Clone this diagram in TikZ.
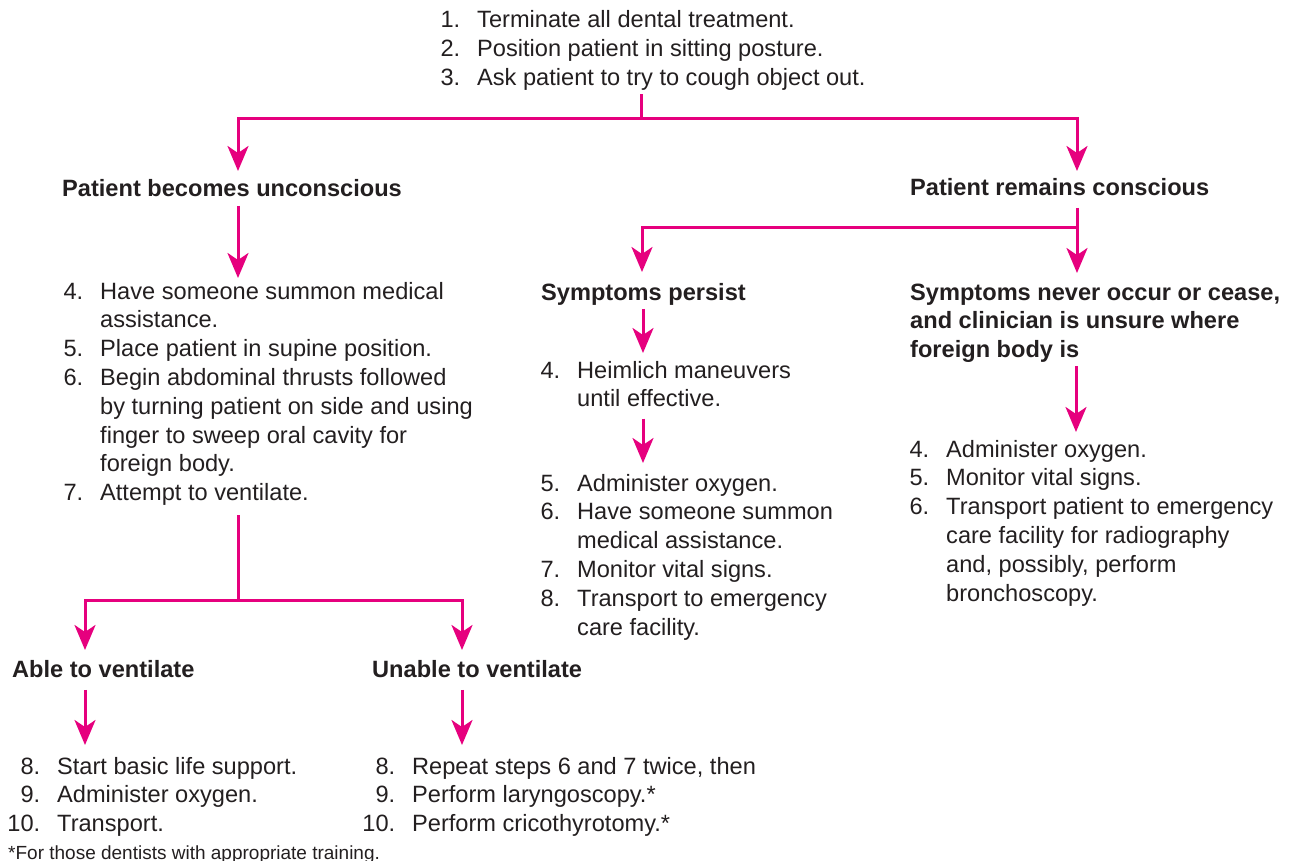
\documentclass[tikz,border=0pt]{standalone}
\usepackage{fontspec}
\setmainfont{Liberation Sans}
\usetikzlibrary{arrows.meta}
\definecolor{flowpink}{RGB}{230,0,126}
\definecolor{ink}{RGB}{35,31,32}
\newcommand\fs{\fontsize{23.6}{28.8}\selectfont}
\newcommand\nm[1]{\makebox[34pt][r]{#1}}
\newenvironment{steps}{\begin{tabular}[t]{@{}l@{\hspace{17pt}}l@{}}}{\end{tabular}}
\tikzset{
  txt/.style={anchor=base west, inner sep=0pt, text=ink, font=\fs},
  hd/.style={txt, font=\fs\bfseries},
  conn/.style={draw=flowpink, line width=3pt},
  arr/.style={conn, -{Stealth[length=25pt,width=21pt,inset=7pt]}}
}
\begin{document}
\begin{tikzpicture}[x=1pt,y=-1pt]
\fill[white] (0,0) rectangle (1293,861);
\useasboundingbox (0,0) rectangle (1293,861);

% text blocks
\node[txt] (top) at (426,28) {\begin{steps}
\nm{1.} & Terminate all dental treatment.\\
\nm{2.} & Position patient in sitting posture.\\
\nm{3.} & Ask patient to try to cough object out.
\end{steps}};

\node[hd] (unc) at (62,197) {\strut Patient becomes unconscious};
\node[hd] (con) at (910,196) {\strut Patient remains conscious};

\node[txt] (l1) at (49,299) {\begin{steps}
\nm{4.} & Have someone summon medical\\
        & assistance.\\
\nm{5.} & Place patient in supine position.\\
\nm{6.} & Begin abdominal thrusts followed\\
        & by turning patient on side and using\\
        & finger to sweep oral cavity for\\
        & foreign body.\\
\nm{7.} & Attempt to ventilate.
\end{steps}};

\node[hd] (sp) at (541,300) {\strut Symptoms persist};
\node[hd] (sn) at (910,300) {\begin{tabular}[t]{@{}l@{}}
Symptoms never occur or cease,\\
and clinician is unsure where\\
foreign body is
\end{tabular}};

\node[txt] (m1) at (526,378) {\begin{steps}
\nm{4.} & Heimlich maneuvers\\
        & until effective.
\end{steps}};

\node[txt] (m2) at (526,491) {\begin{steps}
\nm{5.} & Administer oxygen.\\
\nm{6.} & Have someone summon\\
        & medical assistance.\\
\nm{7.} & Monitor vital signs.\\
\nm{8.} & Transport to emergency\\
        & care facility.
\end{steps}};

\node[txt] (r1) at (895,457) {\begin{steps}
\nm{4.} & Administer oxygen.\\
\nm{5.} & Monitor vital signs.\\
\nm{6.} & Transport patient to emergency\\
        & care facility for radiography\\
        & and, possibly, perform\\
        & bronchoscopy.
\end{steps}};

\node[hd] (able) at (12,677) {\strut Able to ventilate};
\node[hd] (unable) at (372,677) {\strut Unable to ventilate};

\node[txt] (bl) at (6,774) {\begin{steps}
\nm{8.} & Start basic life support.\\
\nm{9.} & Administer oxygen.\\
\nm{10.} & Transport.
\end{steps}};

\node[txt] (br) at (361,774) {\begin{steps}
\nm{8.} & Repeat steps 6 and 7 twice, then\\
\nm{9.} & Perform laryngoscopy.*\\
\nm{10.} & Perform cricothyrotomy.*
\end{steps}};

\node[txt, font=\fontsize{19}{22}\selectfont] (foot) at (8,859) {*For those dentists with appropriate training.};

% connector points
\coordinate (j0) at (641,119);
\coordinate (tL) at (238,171);
\coordinate (tR) at (1077,171);
\coordinate (a1) at (238,278);
\coordinate (j1) at (238,600);
\coordinate (b1) at (85,650);
\coordinate (b2) at (462,650);
\coordinate (c1) at (85,745);
\coordinate (c2) at (462,745);
\coordinate (d1) at (1077,273);
\coordinate (k0) at (1077,228);
\coordinate (d2) at (642,272);
\coordinate (e1) at (643,353);
\coordinate (e2) at (643,463);
\coordinate (f1) at (1076,432);

% connectors
\draw[conn] (top.south -| j0) -- (j0);
\draw[arr] (j0) -| (tL);
\draw[arr] (j0) -| (tR);
\draw[arr] (unc.south -| a1) -- (a1);
\draw[conn] ([yshift=-6pt]l1.south -| j1) -- (j1);
\draw[arr] (j1) -| (b1);
\draw[arr] (j1) -| (b2);
\draw[arr] ([yshift=-4pt]able.south -| c1) -- (c1);
\draw[arr] ([yshift=-4pt]unable.south -| c2) -- (c2);
\draw[arr] ([yshift=-3pt]con.south -| d1) -- (d1);
\draw[arr] (k0) -| (d2);
\draw[arr] (sp.south -| e1) -- (e1);
\draw[arr] ([yshift=-3pt]m1.south -| e2) -- (e2);
\draw[arr] (sn.south -| f1) -- (f1);
\end{tikzpicture}
\end{document}
